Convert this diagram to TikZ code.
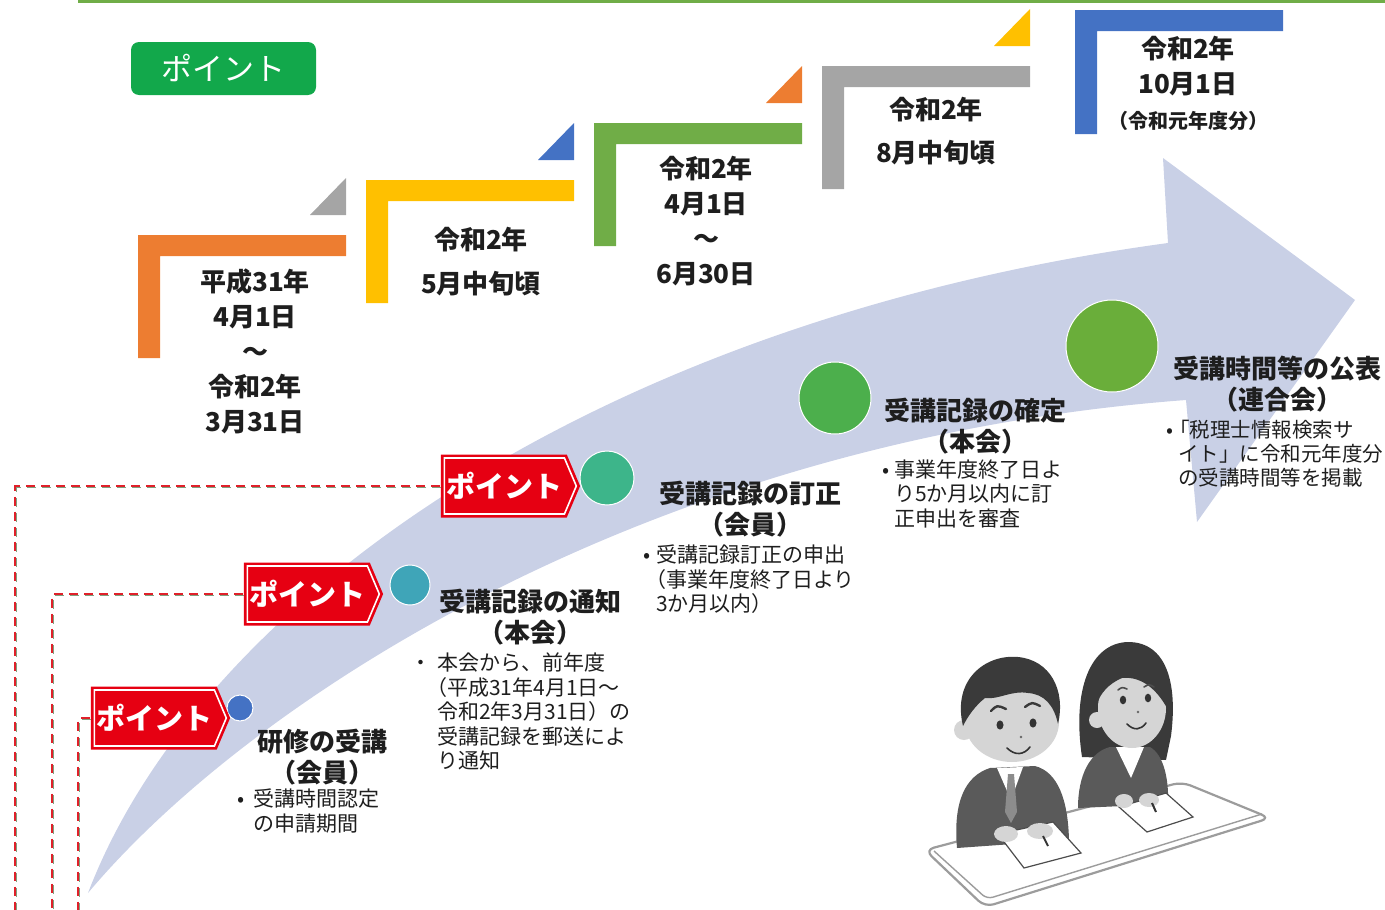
\documentclass[tikz,border=0pt]{standalone}
\usepackage{fontspec}
\newfontfamily\jp{Noto Sans CJK JP}
\usetikzlibrary{shapes.symbols}

\definecolor{cTop}{HTML}{70AD47}
\definecolor{cBadge}{HTML}{12A84B}
\definecolor{cOrange}{HTML}{ED7D31}
\definecolor{cYellow}{HTML}{FFC000}
\definecolor{cGreen}{HTML}{70AD47}
\definecolor{cGray}{HTML}{A5A5A5}
\definecolor{cBlue}{HTML}{4472C4}
\definecolor{cArrow}{HTML}{C9D0E6}
\definecolor{cRed}{HTML}{E60012}
\definecolor{cLink}{HTML}{E0202A}
\definecolor{cLinkShade}{HTML}{7FA07F}
\definecolor{cDotA}{HTML}{4472C4}
\definecolor{cDotB}{HTML}{3FA5B8}
\definecolor{cDotC}{HTML}{3DB58A}
\definecolor{cDotD}{HTML}{4CAF4C}
\definecolor{cDotE}{HTML}{6AAE3A}
\definecolor{cText}{HTML}{1E1E1E}
\definecolor{cSuit}{HTML}{5A5A5A}
\definecolor{cHair}{HTML}{3A3A3A}
\definecolor{cSkin}{HTML}{D5D5D5}
\definecolor{cDesk}{HTML}{9C9C9C}

\begin{document}
\begin{tikzpicture}[x=1pt,y=-1pt,
  datelabel/.style={font=\jp\bfseries\fontsize{26}{35}\selectfont, align=center, inner sep=0, text=cText},
  evtitle/.style={font=\jp\bfseries\fontsize{26}{31}\selectfont, align=center, inner sep=0, text=cText},
  evnote/.style={font=\jp\fontsize{21}{24.5}\selectfont, align=left, inner sep=0, anchor=west, text=cText},
  evdot/.style={circle, draw=white, line width=1, inner sep=0},
  pointtag/.style={shape=signal, signal to=east, signal pointer angle=134,
    minimum width=132, minimum height=56, inner sep=0, fill=cRed, draw=white,
    line width=1.6, preaction={draw=cRed, line width=7}, text=white,
    font=\jp\bfseries\fontsize{29}{29}\selectfont, anchor=west},
  pointlink/.style={draw=cLink, line width=2, dash pattern=on 9 off 6, shorten <=4},
  linkshade/.style={draw=cLinkShade, line width=1.4, dash pattern=on 9 off 6, shorten <=4},
  greenbadge/.style={rounded corners=8, fill=cBadge, text=white, minimum width=185,
    minimum height=53, inner sep=0, font=\jp\fontsize{31}{31}\selectfont}
]
\useasboundingbox (0,0) rectangle (1385,910);

% top rule
\draw[cTop, line width=3.5] (78,1.5) -- (1385,1.5);

% the curved timeline arrow
\fill[cArrow] (88,893) .. controls (200,600) and (600,320) .. (1168,243)
  -- (1163,158) -- (1355,300) -- (1197,522) -- (1186,400)
  .. controls (650,440) and (250,700) .. (88,893) -- cycle;

% date brackets with their corner triangles
\foreach \x/\y/\bar/\tri in {138/235/cOrange/cGray, 366/180/cYellow/cBlue,
                             594/123/cGreen/cOrange, 822/66/cGray/cYellow} {
  \fill[\bar] (\x,\y) -- ++(208,0) -- ++(0,21) -- ++(-186,0) -- ++(0,102) -- ++(-22,0) -- cycle;
  \fill[\tri] (\x+172,\y-20) -- (\x+208,\y-20) -- (\x+208,\y-57) -- cycle;
}
\fill[cBlue] (1075,10) -- ++(208,0) -- ++(0,21) -- ++(-186,0) -- ++(0,103) -- ++(-22,0) -- cycle;

% dates
\node[datelabel] (s1) at (255,351) {平成31年\\4月1日\\～\\令和2年\\3月31日};
\node[datelabel, font=\jp\bfseries\fontsize{26}{44}\selectfont] (s2) at (481,262) {令和2年\\5月中旬頃};
\node[datelabel] (s3) at (706,221) {令和2年\\4月1日\\～\\6月30日};
\node[datelabel, font=\jp\bfseries\fontsize{26}{43}\selectfont] (s4) at (936,131) {令和2年\\8月中旬頃};
\node[datelabel] (s5) at (1188,83) {令和2年\\10月1日\\{\fontsize{20}{36}\selectfont（令和元年度分）}};

% heading badge
\node[greenbadge] (pt) at (223.5,68.5) {ポイント};

% event dots
\node[evdot, fill=cDotA, minimum size=26] (d1) at (240,708) {};
\node[evdot, fill=cDotB, minimum size=40] (d2) at (410,585) {};
\node[evdot, fill=cDotC, minimum size=54] (d3) at (607,478) {};
\node[evdot, fill=cDotD, minimum size=72] (d4) at (835,398) {};
\node[evdot, fill=cDotE, minimum size=92] (d5) at (1112,346) {};

% event titles
\node[evtitle] (t1) at (322,757) {研修の受講\\（会員）};
\node[evtitle] (t2) at (530,617) {受講記録の通知\\（本会）};
\node[evtitle] (t3) at (750,509) {受講記録の訂正\\（会員）};
\node[evtitle] (t4) at (975,426) {受講記録の確定\\（本会）};
\node[evtitle] (t5) at (1277,384) {受講時間等の公表\\（連合会）};

% event notes
\node[evnote] (n1) at (237,811) {\makebox[16pt][l]{•}受講時間認定\\\hspace*{16pt}の申請期間};
\node[evnote] (n2) at (410,711.5) {\makebox[27pt][l]{・}本会から、前年度\\\hspace*{16pt}（平成31年4月1日～\\\hspace*{27pt}令和2年3月31日）の\\\hspace*{27pt}受講記録を郵送によ\\\hspace*{27pt}り通知};
\node[evnote] (n3) at (643,579.5) {\makebox[13pt][l]{•}受講記録訂正の申出\\\hspace*{2pt}（事業年度終了日より\\\hspace*{13pt}3か月以内）};
\node[evnote] (n4) at (882,493.5) {\makebox[12pt][l]{•}事業年度終了日よ\\\hspace*{12pt}り5か月以内に訂\\\hspace*{12pt}正申出を審査};
\node[evnote, font=\jp\fontsize{20.5}{24}\selectfont] (n5) at (1166,454) {\makebox[12pt][l]{•}\hspace*{-9pt}「税理士情報検索サ\\\hspace*{12pt}イト」に令和元年度分\\\hspace*{12pt}の受講時間等を掲載};

% point tags and their dashed leaders
\node[pointtag] (p1) at (93.5,718) {ポイント};
\node[pointtag] (p2) at (246.5,594) {ポイント};
\node[pointtag] (p3) at (443.5,486) {ポイント};
\coordinate (e1) at (78,910);
\coordinate (e2) at (52,910);
\coordinate (e3) at (15,910);
\foreach \p/\e in {p1/e1, p2/e2, p3/e3} {
  \draw[linkshade, transform canvas={xshift=1.5pt, yshift=-1.5pt}] (\p.west) -| (\e);
  \draw[pointlink] (\p.west) -| (\e);
}

% two attendees at a desk
\filldraw[fill=white, draw=cDesk, line width=2.2, rounded corners=9]
  (925,850) -- (1182,782) -- (1270,818) -- (985,907) -- cycle;
\draw[cDesk, line width=1.4, rounded corners=6] (934,851) -- (987,899) -- (1262,814);
% woman
\fill[cHair] (1082,757) .. controls (1072,690) and (1090,643) .. (1128,642)
  .. controls (1166,642) and (1178,682) .. (1171,736) -- (1166,760) -- cycle;
\fill[cSuit] (1078,808) .. controls (1078,775) and (1090,752) .. (1110,747) -- (1150,747)
  .. controls (1164,755) and (1169,780) .. (1168,804) -- cycle;
\fill[white] (1116,747) -- (1144,747) -- (1131,778) -- cycle;
\fill[cSkin] (1097,720) circle (8);
\fill[cSkin] (1132,708) ellipse (34 and 40);
\fill[cHair] (1097,704) .. controls (1098,664) and (1125,652) .. (1150,662)
  .. controls (1162,672) and (1168,690) .. (1167,708) .. controls (1157,690) and (1142,676) .. (1122,678)
  .. controls (1108,684) and (1100,694) .. (1097,704) -- cycle;
\fill[black!80] (1123,700) ellipse (3.2 and 4.3) (1148,698) ellipse (3.2 and 4.3);
\draw[black!70, line width=1.6, line cap=round] (1118,690) .. controls (1122,687) .. (1127,689)
  (1144,687) .. controls (1149,684) .. (1154,687);
\fill[black!60] (1138,712) circle (1.3);
\draw[black!80, line width=1.6, line cap=round] (1127,724) .. controls (1134,731) and (1141,730) .. (1146,723);
% man
\fill[cSuit] (957,848) .. controls (953,802) and (965,776) .. (990,768) -- (1035,766)
  .. controls (1058,772) and (1068,800) .. (1069,840) -- cycle;
\fill[white] (997,768) -- (1023,767) -- (1011,800) -- cycle;
\fill[black!45] (1008,774) -- (1014,774) -- (1017,812) -- (1011,823) -- (1005,812) -- cycle;
\fill[cSkin] (964,730) circle (10);
\fill[cSkin] (1012,722) ellipse (47 and 40);
\fill[cHair] (963,726) .. controls (952,680) and (985,654) .. (1018,657)
  .. controls (1050,660) and (1066,690) .. (1058,724) .. controls (1054,705) and (1044,694) .. (1028,693)
  .. controls (1012,690) and (998,700) .. (985,698) .. controls (975,706) and (968,716) .. (963,726) -- cycle;
\fill[black!80] (1000,725) ellipse (3.5 and 4.6) (1033,723) ellipse (3.5 and 4.6);
\draw[cHair, line width=2.4, line cap=round] (991,711) .. controls (997,705) .. (1006,709)
  (1025,707) .. controls (1032,702) .. (1040,706);
\fill[black!60] (1021,737) circle (1.4);
\draw[black!80, line width=1.6, line cap=round] (1007,748) .. controls (1015,756) and (1024,755) .. (1030,747);
% papers, hands and pens
\filldraw[fill=white, draw=black!70, line width=1.2] (998,834) -- (1053,822) -- (1081,853) -- (1024,868) -- cycle;
\filldraw[fill=white, draw=black!70, line width=1.2] (1119,807) -- (1166,793) -- (1193,817) -- (1147,832) -- cycle;
\fill[cSkin] (1006,834) ellipse (12 and 8) (1040,831) ellipse (13 and 8);
\fill[cSkin] (1124,801) ellipse (9 and 7) (1149,800) ellipse (10 and 7);
\draw[black!80, line width=2] (1043,836) -- (1048,846);
\draw[black!80, line width=2] (1152,803) -- (1156,812);
\end{tikzpicture}
\end{document}
